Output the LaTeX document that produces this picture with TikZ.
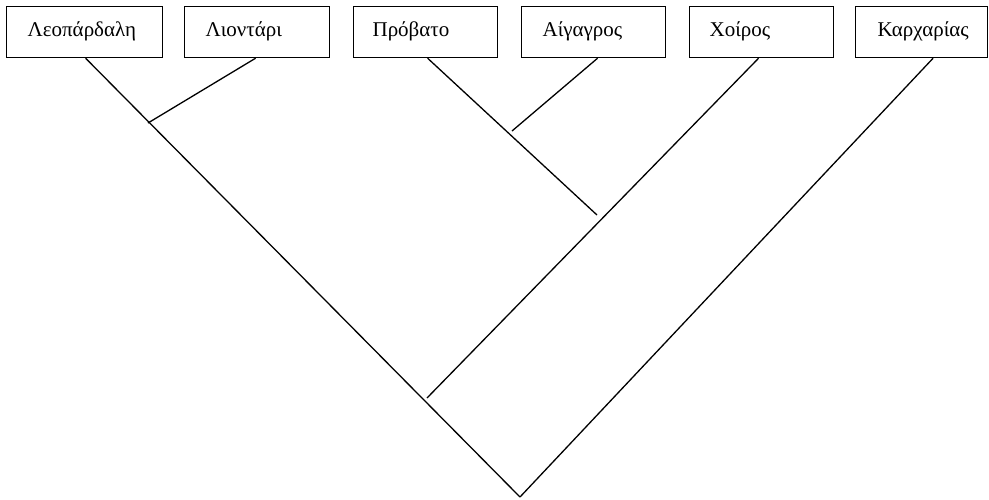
\documentclass[tikz,border=0pt]{standalone}
\usepackage{fontspec}
\setmainfont{Liberation Serif}
\begin{document}
\begin{tikzpicture}[x=1pt,y=1pt,
  taxon/.style={draw, line width=1.2pt, rectangle, anchor=north west,
    minimum height=51pt, inner sep=0pt, inner xsep=21pt, align=left,
    text height=15pt, text depth=6pt, font=\fontsize{21}{24}\selectfont},
  branch/.style={line width=1.3pt}]
\useasboundingbox (0,0) rectangle (989,-499);
\node[taxon, text width=114pt] (b1) at (6,-6) {Λεοπάρδαλη};
\node[taxon, text width=103pt] (b2) at (184,-6) {Λιοντάρι};
\node[taxon, inner xsep=19pt, text width=106pt] (b3) at (353,-6) {Πρόβατο};
\node[taxon, text width=102pt] (b4) at (521,-6) {Αίγαγρος};
\node[taxon, inner xsep=20pt, text width=104pt] (b5) at (689,-6) {Χοίρος};
\node[taxon, inner xsep=22pt, text width=88pt] (b6) at (855,-6) {Καρχαρίας};
\coordinate (root) at (520,-497);
\coordinate (j1) at (148,-123);
\coordinate (j2) at (512,-131);
\coordinate (j3) at (597,-215);
\coordinate (j4) at (427,-398);
\draw[branch] ([xshift=1pt]b1.south) -- (root);
\draw[branch] ([xshift=-1.5pt]b2.south) -- (j1);
\draw[branch] ([xshift=2pt]b3.south) -- (j3);
\draw[branch] ([xshift=4pt]b4.south) -- (j2);
\draw[branch] ([xshift=-3pt]b5.south) -- (j4);
\draw[branch] ([xshift=11.5pt]b6.south) -- (root);
\end{tikzpicture}
\end{document}
